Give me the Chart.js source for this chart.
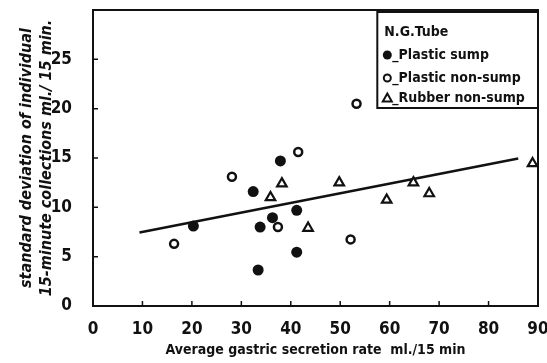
<!DOCTYPE html>
<html><head><meta charset="utf-8">
<script src="https://cdn.jsdelivr.net/npm/chart.js@4.4.0/dist/chart.umd.min.js"></script>
<style>html,body{margin:0;padding:0;background:#fff;}#wrap{width:547px;height:363px;position:relative;}</style>
</head><body><div id="wrap"><canvas id="c"></canvas></div>
<script>
// ---- data ----
const xTicks = [0, 10, 20, 30, 40, 50, 60, 70, 80, 90];
const yTicks = [0, 5, 10, 15, 20, 25];

const plasticSumpX = [20.3, 32.4, 37.9, 36.3, 33.8, 33.4, 41.2, 41.2];
const plasticSumpY = [8.1, 11.6, 14.7, 8.95, 8.0, 3.65, 9.7, 5.45];

const plasticNonSumpX = [16.4, 28.1, 37.4, 41.5, 52.1, 53.3];
const plasticNonSumpY = [6.3, 13.1, 8.0, 15.6, 6.75, 20.5];

const rubberNonSumpX = [35.9, 38.2, 49.8, 59.4, 64.8, 68.0, 88.9, 43.5];
const rubberNonSumpY = [11.0, 12.4, 12.5, 10.75, 12.5, 11.4, 14.45, 7.9];

const fitLineX = [9.4, 86.0];
const fitLineY = [7.45, 14.95];

const legendTitle = 'N.G.Tube';
const seriesNames = ['_Plastic sump', '_Plastic non-sump', '_Rubber non-sump'];
const xTitle = 'Average gastric secretion rate  ml./15 min';
const yTitle = ['standard deviation of individual', '15-minute collections ml./ 15 min.'];

// ---- helpers ----
const INK = '#111';
const FAM = '"Liberation Sans Narrow","DejaVu Sans Condensed","Arial Narrow",sans-serif';
const pts = (xs, ys) => xs.map((x, i) => ({x: x, y: ys[i]}));

const framePlugin = {
  id: 'frame',
  afterDraw(chart) {
    const {ctx, chartArea: a, scales} = chart;
    ctx.save();
    ctx.strokeStyle = INK;
    ctx.lineWidth = 2;
    ctx.strokeRect(a.left, a.top, a.right - a.left, a.bottom - a.top);
    // inward ticks
    ctx.lineWidth = 1.5;
    ctx.beginPath();
    xTicks.slice(1, -1).forEach(v => {
      const px = scales.x.getPixelForValue(v);
      ctx.moveTo(px, a.bottom); ctx.lineTo(px, a.bottom - 5);
    });
    yTicks.slice(1).forEach(v => {
      const py = scales.y.getPixelForValue(v);
      ctx.moveTo(a.left, py); ctx.lineTo(a.left + 5, py);
    });
    ctx.stroke();

    // legend box
    const lx = scales.x.getPixelForValue(57.5), ly = a.top + 2;
    const lw = a.right - lx, lh = 96;
    ctx.fillStyle = '#fff';
    ctx.fillRect(lx, ly, lw, lh);
    ctx.lineWidth = 2;
    ctx.strokeRect(lx, ly, lw, lh);
    ctx.fillStyle = INK;
    ctx.textBaseline = 'middle';
    ctx.textAlign = 'left';
    ctx.font = 'bold 14px ' + FAM;
    ctx.fillText(legendTitle, lx + 7, ly + 20);
    const rows = [ly + 43, ly + 66, ly + 86];
    const mx = lx + 10;
    ctx.beginPath(); ctx.arc(mx, rows[0], 4.5, 0, Math.PI * 2); ctx.fill();
    ctx.lineWidth = 2;
    ctx.beginPath(); ctx.arc(mx, rows[1], 3.5, 0, Math.PI * 2); ctx.stroke();
    ctx.beginPath();
    ctx.moveTo(mx, rows[2] - 4.5); ctx.lineTo(mx + 4.5, rows[2] + 3.5); ctx.lineTo(mx - 4.5, rows[2] + 3.5); ctx.closePath(); ctx.stroke();
    seriesNames.forEach((t, i) => ctx.fillText(t, mx + 5, rows[i]));
    ctx.restore();
  }
};

const tickFont = {family: FAM, size: 17, weight: 'bold'};

new Chart(document.getElementById('c'), {
  type: 'scatter',
  data: {
    datasets: [
      {label: seriesNames[0], data: pts(plasticSumpX, plasticSumpY), pointStyle: 'circle', pointRadius: 5.5, backgroundColor: INK, borderColor: INK, borderWidth: 0},
      {label: seriesNames[1], data: pts(plasticNonSumpX, plasticNonSumpY), pointStyle: 'circle', pointRadius: 4, backgroundColor: '#fff', borderColor: INK, borderWidth: 2.5},
      {label: seriesNames[2], data: pts(rubberNonSumpX, rubberNonSumpY), pointStyle: 'triangle', pointRadius: 5.5, backgroundColor: '#fff', borderColor: INK, borderWidth: 2.2},
      {type: 'line', label: 'fit', data: pts(fitLineX, fitLineY), borderColor: INK, borderWidth: 2.5, pointRadius: 0, fill: false}
    ]
  },
  options: {
    responsive: true,
    maintainAspectRatio: false,
    animation: false,
    devicePixelRatio: 1,
    layout: {padding: {top: 10, right: 9, left: 0, bottom: 0}},
    plugins: {legend: {display: false}, tooltip: {enabled: false}},
    scales: {
      x: {
        type: 'linear', min: 0, max: 90,
        afterBuildTicks: s => { s.ticks = xTicks.map(v => ({value: v})); },
        afterFit: s => { s.height = 57; s.paddingLeft = 0; s.paddingRight = 0; },
        grid: {display: false}, border: {display: false},
        ticks: {font: tickFont, color: INK, padding: 5, maxRotation: 0},
        title: {display: true, text: xTitle, color: INK, font: {family: FAM, size: 14, weight: 'bold'}, padding: {top: 0, bottom: 4}}
      },
      y: {
        type: 'linear', min: 0, max: 30,
        afterBuildTicks: s => { s.ticks = yTicks.map(v => ({value: v})); },
        afterFit: s => { s.width = 93; s.paddingTop = 0; s.paddingBottom = 0; },
        grid: {display: false}, border: {display: false},
        ticks: {font: tickFont, color: INK, padding: 13},
        title: {display: true, text: yTitle, color: INK, font: {family: FAM, size: 16, weight: 'bold', style: 'italic', lineHeight: 1.25}, padding: {top: 17, bottom: 0}}
      }
    }
  },
  plugins: [framePlugin]
});
</script>
</body></html>
